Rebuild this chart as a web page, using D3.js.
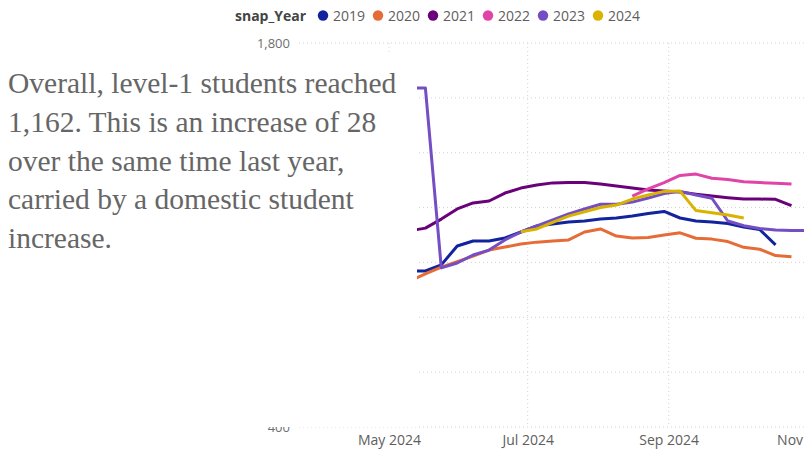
<!DOCTYPE html>
<html>
<head>
<meta charset="utf-8">
<script src="https://cdn.jsdelivr.net/npm/d3@7"></script>
<style>
  body { margin: 0; background: #fff; }
  svg { display: block; }
</style>
</head>
<body>
<div id="root"></div>
<script>
const width = 804
const height = 454

// weekly snapshot dates (first one sits behind the text box)
const weeks = ['2024-05-10', '2024-05-17', '2024-05-24', '2024-05-31', '2024-06-07', '2024-06-14',
  '2024-06-21', '2024-06-28', '2024-07-05', '2024-07-12', '2024-07-19', '2024-07-26', '2024-08-02',
  '2024-08-09', '2024-08-16', '2024-08-23', '2024-08-30', '2024-09-06', '2024-09-13', '2024-09-20',
  '2024-09-27', '2024-10-04', '2024-10-11', '2024-10-18', '2024-10-25', '2024-11-01']

const years = ['2019', '2020', '2021', '2022', '2023', '2024']
const colors = ['#12239E', '#E66C37', '#6B007B', '#E044A7', '#744EC2', '#D9B300']

const s2019 = [969, 969, 991, 1060, 1078, 1078, 1089, 1111, 1133, 1140, 1147, 1151, 1158,
  1162, 1169, 1178, 1186, 1162, 1151, 1147, 1142, 1129, 1120, 1064, null, null]
const s2020 = [932, 958, 983, 1003, 1023, 1045, 1056, 1067, 1074, 1078, 1082, 1111, 1122,
  1096, 1089, 1091, 1100, 1108, 1088, 1085, 1076, 1055, 1048, 1025, 1021, null]
const s2021 = [1115, 1125, 1158, 1195, 1217, 1224, 1253, 1271, 1282, 1290, 1291, 1291, 1286,
  1279, 1271, 1264, 1260, 1257, 1249, 1242, 1236, 1231, 1231, 1230, 1207, null]
const s2022 = [null, null, null, null, null, null, null, null, null, null, null, null, null,
  null, 1242, 1268, 1291, 1317, 1322, 1307, 1302, 1294, 1291, 1289, 1286, null]
const s2023 = [1636, 1636, 980, 998, 1027, 1045, 1082, 1111, 1133, 1155, 1177, 1195, 1212,
  1212, 1220, 1235, 1251, 1259, 1246, 1234, 1151, 1134, 1124, 1118, 1116, 1116]
const s2024 = [null, null, null, null, null, null, null, 1112, 1122, 1146, 1169, 1185, 1200,
  1209, 1231, 1246, 1259, 1260, 1189, 1181, 1173, 1162, null, null, null, null]

const yTicks = [400, 600, 800, 1000, 1200, 1400, 1600, 1800]
const yLabels = [400, 1800] // the others sit under the text box
const xTicks = ['2024-05-01', '2024-07-01', '2024-09-01', '2024-11-01']

const noteLines = [
  'Overall, level-1 students reached',
  '1,162. This is an increase of 28',
  'over the same time last year,',
  'carried by a domestic student',
  'increase.'
]

const parse = d3.timeParse('%Y-%m-%d')
const series = [s2019, s2020, s2021, s2022, s2023, s2024]

const svg = d3.select('#root').append('svg')
  .attr('width', width)
  .attr('height', height)
  .style('font-family', '"Open Sans", sans-serif')

const plotLeft = 299
const plotRight = 804

const x = d3.scaleTime()
  .domain([parse('2024-05-01'), parse('2024-11-01')])
  .range([389, 807.4])

const y = d3.scaleLinear()
  .domain([400, 1800])
  .range([427, 43])

// gridlines
svg.append('g')
  .selectAll('line')
  .data(yTicks)
  .join('line')
  .attr('x1', plotLeft)
  .attr('x2', plotRight)
  .attr('y1', d => y(d))
  .attr('y2', d => y(d))
  .attr('stroke', '#d2d2d2')
  .attr('stroke-dasharray', '1,3')

svg.append('g')
  .selectAll('line')
  .data(xTicks)
  .join('line')
  .attr('x1', d => x(parse(d)))
  .attr('x2', d => x(parse(d)))
  .attr('y1', y(1800))
  .attr('y2', y(400))
  .attr('stroke', '#d2d2d2')
  .attr('stroke-dasharray', '1,3')

// y axis labels
const yAxis = svg.append('g')
  .attr('transform', `translate(${plotLeft - 9},0)`)
  .call(d3.axisLeft(y).tickValues(yLabels).tickFormat(d3.format(',')).tickSize(0))
yAxis.select('.domain').remove()
yAxis.selectAll('text')
  .attr('x', 0)
  .attr('fill', '#6f6f6f')
  .style('font-size', '13px')
  .style('font-family', '"Open Sans", sans-serif')

// x axis labels
const xAxis = svg.append('g')
  .attr('transform', `translate(0,${432})`)
  .call(d3.axisBottom(x).tickValues(xTicks.map(parse)).tickFormat(d3.timeFormat('%b %Y')).tickSize(0))
xAxis.select('.domain').remove()
xAxis.selectAll('text')
  .attr('fill', '#605E5C')
  .style('font-size', '14px')
  .style('font-family', '"Open Sans", sans-serif')

// lines
const line = d3.line()
  .defined(d => d.v != null)
  .x(d => x(d.date))
  .y(d => y(d.v))

series.forEach((vals, i) => {
  const pts = weeks.map((w, j) => ({ date: parse(w), v: vals[j] }))
  svg.append('path')
    .attr('d', line(pts))
    .attr('fill', 'none')
    .attr('stroke', colors[i])
    .attr('stroke-width', 3)
    .attr('stroke-linejoin', 'round')
})

// text box overlay
svg.append('rect')
  .attr('x', 0)
  .attr('y', 55)
  .attr('width', 417)
  .attr('height', 372)
  .attr('fill', '#fff')

svg.append('g')
  .selectAll('text')
  .data(noteLines)
  .join('text')
  .attr('x', 8)
  .attr('y', (d, i) => 93 + i * 38.8)
  .attr('fill', '#666')
  .style('font-family', '"Liberation Serif", "Times New Roman", serif')
  .style('font-size', '29.5px')
  .text(d => d)

// legend
const legend = svg.append('g').attr('transform', 'translate(0,20.5)')
legend.append('text')
  .attr('x', 235)
  .attr('fill', '#444')
  .style('font-size', '14px')
  .style('font-weight', 'bold')
  .text('snap_Year')

const items = legend.selectAll('g.item')
  .data(years)
  .join('g')
  .attr('class', 'item')
  .attr('transform', (d, i) => `translate(${323 + i * 55},0)`)
items.append('circle')
  .attr('cx', 0)
  .attr('cy', -5)
  .attr('r', 5.2)
  .attr('fill', (d, i) => colors[i])
items.append('text')
  .attr('x', 10)
  .attr('fill', '#605E5C')
  .style('font-size', '14px')
  .text(d => d)
</script>
</body>
</html>
